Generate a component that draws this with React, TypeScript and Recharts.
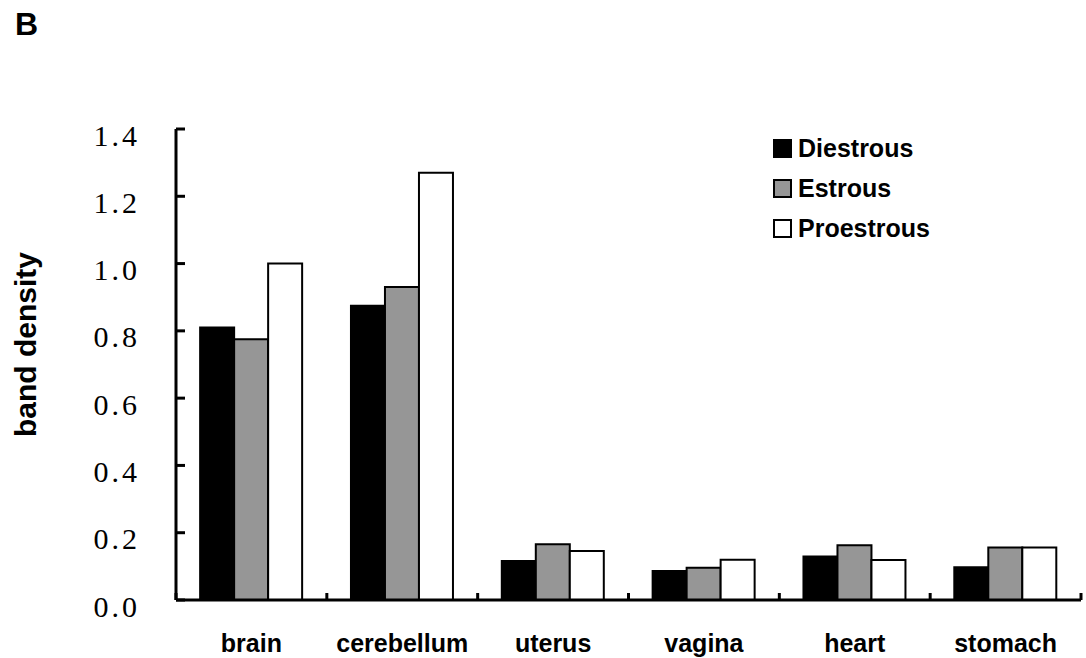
import React from "react";
import { BarChart, Bar, XAxis, YAxis, Legend } from "recharts";

const categories = ["brain", "cerebellum", "uterus", "vagina", "heart", "stomach"];
const diestrous = [0.81, 0.875, 0.116, 0.086, 0.129, 0.097];
const estrous = [0.775, 0.93, 0.166, 0.096, 0.163, 0.156];
const proestrous = [1.0, 1.27, 0.146, 0.12, 0.119, 0.156];
const yTicks = [0, 0.2, 0.4, 0.6, 0.8, 1.0, 1.2, 1.4];

const series = [
  { key: "diestrous", name: "Diestrous", fill: "#000000" },
  { key: "estrous", name: "Estrous", fill: "#969696" },
  { key: "proestrous", name: "Proestrous", fill: "#ffffff" },
];

const data = categories.map((name, i) => ({
  name,
  diestrous: diestrous[i],
  estrous: estrous[i],
  proestrous: proestrous[i],
}));

const W = 1086;
const H = 658;
const Y_AXIS_W = 176;
const X_AXIS_H = 58;
const MARGIN = { top: 129, right: 5, left: 0, bottom: 0 };
const BAND = (W - Y_AXIS_W - MARGIN.right - MARGIN.left) / categories.length;

const sans = "'Liberation Sans', Arial, sans-serif";
const serif = "'Liberation Serif', 'Times New Roman', serif";

function XTick(props: any) {
  const { x, y, payload, index } = props;
  const last = index === categories.length - 1;
  return (
    <g>
      <line x1={x - BAND / 2} x2={x - BAND / 2} y1={y} y2={y - 7} stroke="#000" strokeWidth={3} />
      {last && (
        <line x1={x + BAND / 2} x2={x + BAND / 2} y1={y} y2={y - 7} stroke="#000" strokeWidth={3} />
      )}
      <text
        x={x}
        y={y + 52}
        textAnchor="middle"
        fontFamily={sans}
        fontWeight="bold"
        fontSize={25}
        fill="#000"
      >
        {payload.value}
      </text>
    </g>
  );
}

function YTick(props: any) {
  const { x, y, payload } = props;
  return (
    <g>
      <line x1={x} x2={x + 9} y1={y} y2={y} stroke="#000" strokeWidth={3} />
      <text
        x={x - 36}
        y={y + 6}
        textAnchor="end"
        dominantBaseline="central"
        fontFamily={serif}
        fontSize={30}
        letterSpacing={3}
        fill="#000"
      >
        {Number(payload.value).toFixed(1)}
      </text>
    </g>
  );
}

function YLabel(props: any) {
  const { viewBox } = props;
  const cx = viewBox.x + 25;
  const cy = viewBox.y + viewBox.height / 2 - 20;
  return (
    <text
      x={cx}
      y={cy}
      textAnchor="middle"
      dominantBaseline="central"
      transform={`rotate(-90, ${cx}, ${cy})`}
      fontFamily={sans}
      fontWeight="bold"
      fontSize={30}
      fill="#000"
    >
      band density
    </text>
  );
}

function LegendBox() {
  return (
    <div>
      {series.map((s) => (
        <div
          key={s.key}
          style={{ display: "flex", alignItems: "center", height: 40 }}
        >
          <span
            style={{
              display: "inline-block",
              width: 15,
              height: 15,
              background: s.fill,
              border: "2px solid #000",
              marginRight: 6,
            }}
          />
          <span
            style={{
              fontFamily: sans,
              fontWeight: "bold",
              fontSize: 25,
              color: "#000",
            }}
          >
            {s.name}
          </span>
        </div>
      ))}
    </div>
  );
}

export default function App() {
  return (
    <div style={{ position: "absolute", left: 0, top: 0, width: W, height: H, background: "#fff" }}>
      <div
        style={{
          position: "absolute",
          left: 15,
          top: 8,
          fontFamily: sans,
          fontWeight: "bold",
          fontSize: 32,
          lineHeight: "32px",
          zIndex: 2,
        }}
      >
        B
      </div>
      <BarChart
        width={W}
        height={H}
        data={data}
        margin={MARGIN}
        barCategoryGap="16%"
        barGap={0}
      >
        <XAxis
          dataKey="name"
          height={X_AXIS_H}
          axisLine={{ stroke: "#000", strokeWidth: 3 }}
          tickLine={false}
          tickSize={0}
          tickMargin={0}
          tick={<XTick />}
          interval={0}
        />
        <YAxis
          width={Y_AXIS_W}
          domain={[0, 1.4]}
          ticks={yTicks}
          axisLine={{ stroke: "#000", strokeWidth: 3 }}
          tickLine={false}
          tickSize={0}
          tickMargin={0}
          tick={<YTick />}
          interval={0}
          label={<YLabel />}
        />
        <Legend
          layout="vertical"
          align="center"
          verticalAlign="middle"
          wrapperStyle={{ left: 773, top: 128, width: 220 }}
          content={() => <LegendBox />}
        />
        {series.map((s) => (
          <Bar
            key={s.key}
            dataKey={s.key}
            name={s.name}
            fill={s.fill}
            stroke="#000"
            strokeWidth={2}
            isAnimationActive={false}
          />
        ))}
      </BarChart>
    </div>
  );
}
